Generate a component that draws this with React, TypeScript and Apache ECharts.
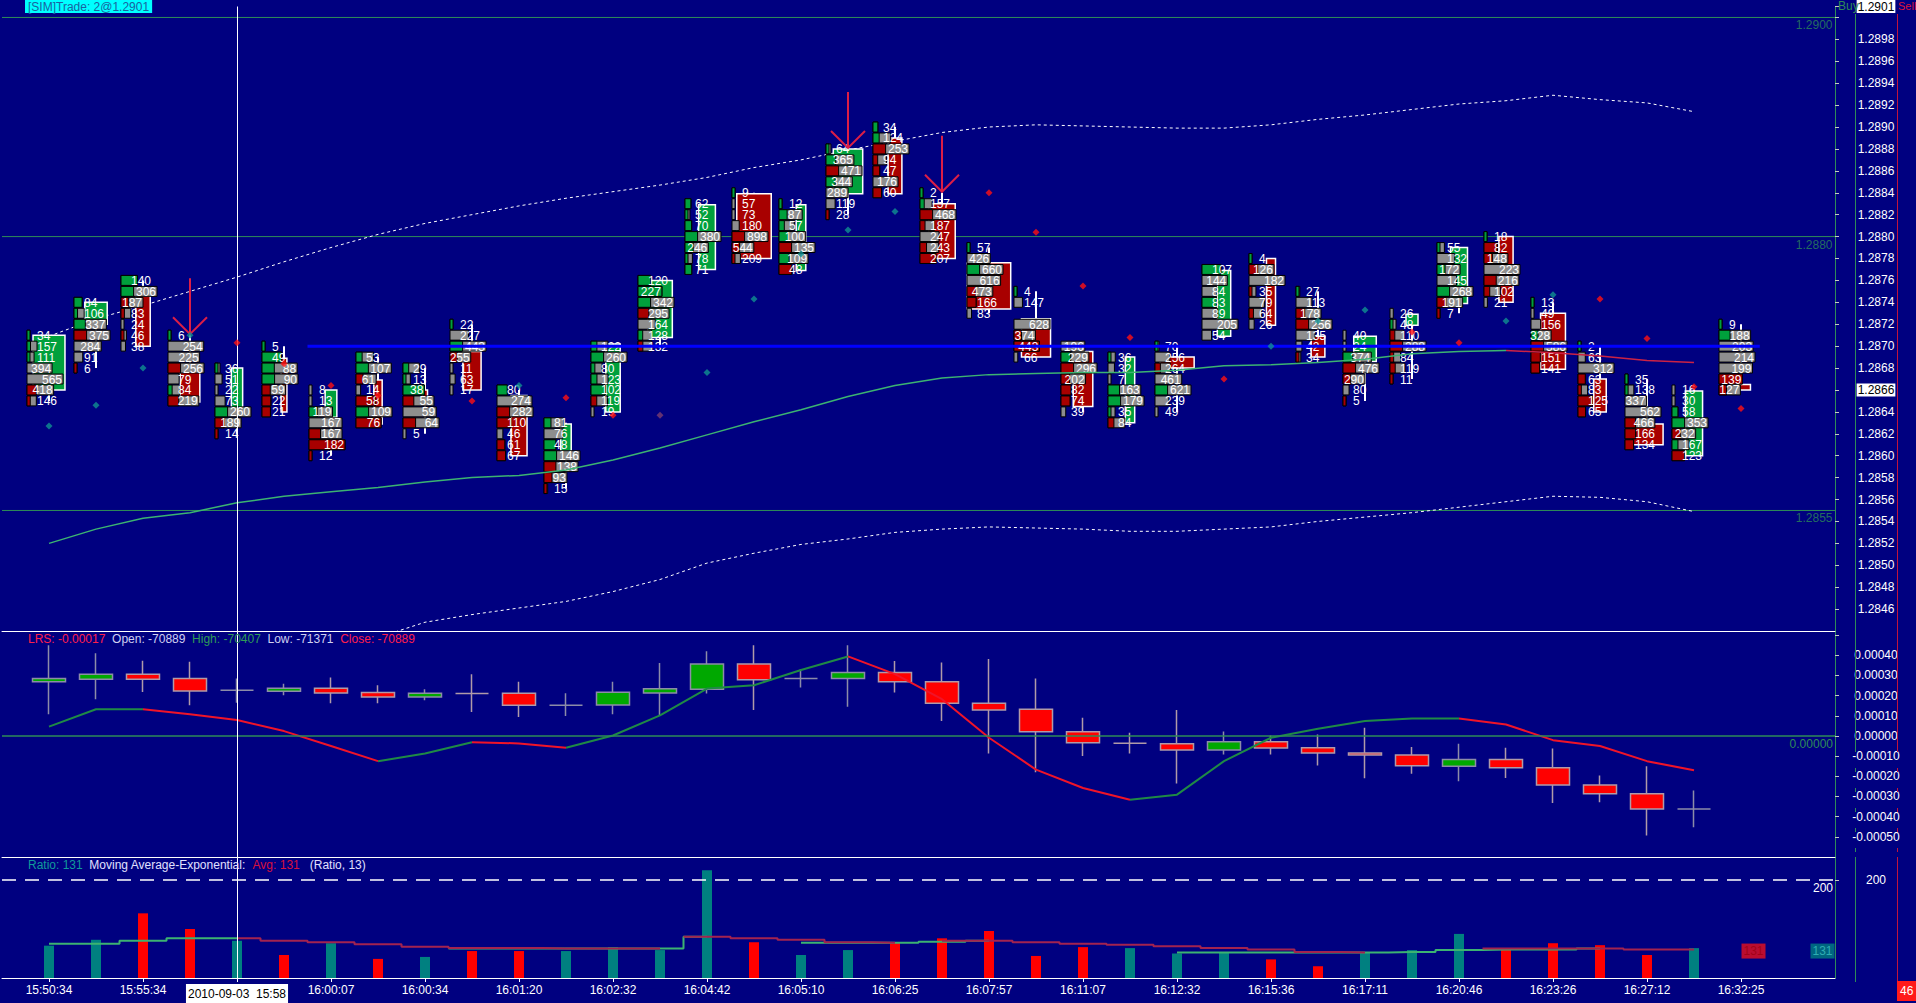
import React, { useEffect, useRef } from "react";
import * as echarts from "echarts";

const FONT = "'Liberation Sans', Arial, sans-serif";
const BG = "#000080";
const LEVEL_GREEN = "#2e8b57";
const FP_GREEN = "#00a03c";
const FP_RED = "#a80000";
const FP_GRAY = "#8e8e8e";

// ---------- X axis ----------
const timeLabels = ["15:50:34", "15:55:34", "", "16:00:07", "16:00:34", "16:01:20", "16:02:32", "16:04:42", "16:05:10", "16:06:25", "16:07:57", "16:11:07", "16:12:32", "16:15:36", "16:17:11", "16:20:46", "16:23:26", "16:27:12", "16:32:25"];
const labelSlots = timeLabels.map((_, k) => k * 2);
const cursorIndex = 4;
const cursorLabel = "2010-09-03  15:58";

// ---------- Main price panel ----------
const priceLevels = [1.29, 1.288, 1.2855];
const lastPrice = 1.2866;
const tradePrice = 1.2901;
const positionPrice = 1.287;
const positionFrom = 5.5;
const positionTo = 36.4;
const arrowBars = [3, 17, 19];

const fpTop = [1.2871, 1.2874, 1.2876, 1.2871, 1.2868, 1.287, 1.2866, 1.2869, 1.2868, 1.2872, 1.2866, 1.2863, 1.287, 1.2876, 1.2883, 1.2884, 1.2883, 1.2888, 1.289, 1.2884, 1.2879, 1.2875, 1.287, 1.2869, 1.287, 1.2877, 1.2878, 1.2875, 1.2871, 1.2873, 1.2879, 1.288, 1.2874, 1.287, 1.2867, 1.2866, 1.2872];
const fpVols: (number | null)[][] = [
  [34, 157, 111, 394, 565, 418, 146],
  [84, 106, 337, 375, 284, 91, 6],
  [140, 306, 187, 83, 24, 46, 38],
  [6, 254, 225, 256, 79, 84, 219],
  [36, 51, 22, 73, 260, 189, 14],
  [5, 49, 88, 90, 59, 22, 21],
  [8, 13, 119, 167, 167, 182, 12],
  [53, 107, 61, 14, 58, 109, 76],
  [29, 13, 38, 55, 59, 64, 5],
  [22, 227, 443, 255, 11, 63, 17],
  [80, 274, 282, 110, 46, 61, 67],
  [81, 76, 48, 146, 138, 93, 15],
  [122, 260, 80, 123, 102, 119, 19],
  [120, 227, 342, 295, 164, 128, 132],
  [62, 52, 70, 380, 246, 78, 71],
  [9, 57, 73, 180, 898, 544, 209],
  [12, 87, 57, 100, 135, 109, 48],
  [64, 365, 471, 344, 289, 119, 28],
  [34, 124, 253, 94, 47, 176, 60],
  [2, 157, 468, 187, 247, 243, 207],
  [57, 426, 660, 616, 473, 166, 83],
  [4, 147, null, 628, 374, 443, 66],
  [196, 229, 296, 202, 82, 74, 39],
  [36, 32, 7, 163, 179, 35, 84],
  [70, 256, 264, 461, 621, 239, 49],
  [107, 144, 84, 83, 89, 205, 54],
  [4, 126, 182, 35, 79, 64, 26],
  [27, 113, 178, 256, 135, 42, 34],
  [40, 24, 374, 476, 290, 80, 5],
  [26, 48, 110, 288, 84, 119, 11],
  [55, 132, 172, 145, 268, 191, 7],
  [18, 82, 148, 223, 216, 102, 21],
  [13, 49, 156, 328, 586, 151, 141],
  [2, 63, 312, 63, 83, 125, 65],
  [35, 138, 337, 562, 466, 166, 134],
  [16, 30, 58, 353, 232, 167, 123],
  [9, 188, 203, 214, 199, 139, 127],
];
// per row: g/r = buy/sell part then neutral, G/R = all buy/sell, n = neutral
const fpSides = ["gggnnrr", "Gggrnnr", "Ggrrnrn", "gnnrngr", "gnnngrr", "gGggrRR", "nngnrRr", "ggrnRgR", "ggGrnrn", "gngrnnn", "GnrRnRR", "gnGgrrr", "ggggGrn", "GGgrngr", "GgGgggG", "gnnnrrr", "ggggrgR", "ggrgnnr", "GgrrRnR", "ggrrnrR", "gngnrRn", "gnnnrRn", "ngrrRRn", "gnngggr", "gnrngnn", "GnnGnnn", "grnrnrn", "gnrrnnr", "nngrrnr", "ngrrrrr", "gngngrr", "gRrnrrn", "gnngrRR", "gnnRrRR", "ggnnrRR", "nnGgrgR", "ggnnnRr"];
const fpOpen = [1.2866, 1.2872, 1.28746, 1.28684, 1.28637, 1.28689, 1.28635, 1.28669, 1.2866, 1.28695, 1.28655, 1.28604, 1.2864, 1.28708, 1.2877, 1.28839, 1.28769, 1.28839, 1.2889, 1.2883, 1.28776, 1.28725, 1.28695, 1.2863, 1.2869, 1.28709, 1.2878, 1.28709, 1.28686, 1.28719, 1.28739, 1.288, 1.2873, 1.2867, 1.28629, 1.286, 1.28665];
const fpClose = [1.2871, 1.2874, 1.287, 1.28649, 1.2868, 1.2864, 1.2866, 1.28629, 1.2865, 1.2866, 1.286, 1.28629, 1.28702, 1.2876, 1.28829, 1.2878, 1.28829, 1.2888, 1.28839, 1.2878, 1.28734, 1.2869, 1.28645, 1.2869, 1.2868, 1.28769, 1.28719, 1.2869, 1.28709, 1.28729, 1.2879, 1.2874, 1.28679, 1.2864, 1.2861, 1.28659, 1.2866];

const maValues = [1.2852, 1.28533, 1.28543, 1.28548, 1.28557, 1.28563, 1.28567, 1.28571, 1.28576, 1.2858, 1.28582, 1.28587, 1.28596, 1.28607, 1.28619, 1.28631, 1.28642, 1.28654, 1.28664, 1.28671, 1.28674, 1.28675, 1.28676, 1.28676, 1.28678, 1.28682, 1.28683, 1.28685, 1.28688, 1.28693, 1.28695, 1.28696, 1.28694, 1.28691, 1.28687, 1.28685];
const upperBand = [1.28709, 1.28725, 1.28737, 1.2875, 1.28763, 1.28777, 1.2879, 1.28802, 1.28812, 1.2882, 1.28828, 1.28835, 1.28841, 1.28847, 1.28854, 1.28863, 1.2887, 1.28879, 1.28887, 1.28895, 1.289, 1.28902, 1.28901, 1.289, 1.28899, 1.28899, 1.28902, 1.28907, 1.28911, 1.28916, 1.28921, 1.28924, 1.28929, 1.28925, 1.28922, 1.28914];
const lowerBand: (number | null)[] = [null, null, null, null, null, null, null, 1.28434, 1.28448, 1.28455, 1.28461, 1.28467, 1.28476, 1.28487, 1.28502, 1.28511, 1.28519, 1.28524, 1.2853, 1.28533, 1.28535, 1.28534, 1.28533, 1.28531, 1.28531, 1.28533, 1.28535, 1.2854, 1.28544, 1.28548, 1.28553, 1.28558, 1.28563, 1.28562, 1.28558, 1.28549];

const tealDots = [[0, 1.28627], [1, 1.28646], [2, 1.2868], [3, 1.2871], [10, 1.28664], [14, 1.28676], [15, 1.28743], [16, 1.28784], [17, 1.28806], [18, 1.28823], [26, 1.287], [27, 1.28723], [28, 1.28733], [31, 1.28723], [32, 1.28747]];
const redDots = [[4, 1.28703], [5, 1.28684], [6, 1.28664], [7, 1.28655], [9, 1.2865], [11, 1.28653], [12, 1.28637], [20, 1.2884], [21, 1.28804], [22, 1.28755], [23, 1.28708], [25, 1.2867], [29, 1.28713], [30, 1.28703], [33, 1.28743], [34, 1.28707], [35, 1.28663], [36, 1.28643]];
const neutralDots = [[13, 1.28637]];

// ---------- LRS panel (units of 0.0001) ----------
const LRS_UNIT = 0.0001;
// [open, close, low, high]
const lrsCandles = [
  [2.68, 2.84, 1.07, 4.5], [2.81, 3.06, 1.82, 4.1], [3.06, 2.81, 2.18, 3.72], [2.84, 2.23, 1.52, 3.67],
  [2.26, 2.26, 1.65, 2.84], [2.21, 2.36, 2.01, 2.59], [2.36, 2.13, 1.62, 2.89], [2.15, 1.93, 1.62, 2.51],
  [1.93, 2.11, 1.77, 2.31], [2.1, 2.1, 1.19, 3.06], [2.11, 1.52, 0.94, 2.68], [1.52, 1.52, 0.99, 2.11],
  [1.53, 2.16, 1.07, 2.68], [2.13, 2.34, 0.99, 3.61], [2.31, 3.56, 2.1, 4.2], [3.56, 2.78, 1.28, 4.5],
  [2.84, 2.84, 2.4, 3.31], [2.84, 3.14, 1.45, 4.5], [3.14, 2.69, 2.15, 3.71], [2.69, 1.62, 0.74, 3.64],
  [1.62, 1.28, -0.87, 3.81], [1.32, 0.21, -1.8, 2.84], [0.21, -0.34, -1.0, 0.9], [-0.36, -0.36, -0.87, 0.16],
  [-0.39, -0.7, -2.36, 1.28], [-0.7, -0.29, -0.92, 0.22], [-0.29, -0.6, -0.92, 0.02], [-0.59, -0.85, -1.47, 0.07],
  [-0.84, -0.95, -2.1, 0.41], [-0.94, -1.48, -1.87, -0.55], [-1.5, -1.17, -2.25, -0.39], [-1.17, -1.58, -2.08, -0.59],
  [-1.58, -2.43, -3.32, -0.62], [-2.43, -2.87, -3.29, -1.96], [-2.87, -3.62, -4.93, -1.5], [-3.62, -3.62, -4.53, -2.71],
];
const lrsLine = [0.46, 1.32, 1.32, 1.07, 0.79, 0.24, -0.5, -1.25, -0.87, -0.31, -0.37, -0.59, 0.02, 1.02, 2.35, 2.51, 3.27, 3.94, 3.06, 1.82, -0.09, -1.67, -2.58, -3.16, -2.91, -1.25, -0.09, 0.36, 0.74, 0.86, 0.86, 0.57, -0.21, -0.5, -1.25, -1.7];

// ---------- Ratio panel ----------
const ratioValues = [66, 78, 132, 100, 76, 47, 71, 39, 43, 55, 55, 55, 63, 57, 220, 73, 47, 57, 72, 81, 96, 45, 63, 61, 50, 51, 38, 24, 52, 57, 90, 59, 71, 67, 47, 61];
const ratioDir = [1, 1, -1, -1, 1, -1, 1, -1, 1, -1, -1, 1, 1, 1, 1, -1, 1, 1, -1, -1, -1, -1, -1, 1, 1, 1, -1, -1, 1, 1, 1, -1, -1, -1, -1, 1];
const avgValues = [70, 70, 76, 81, 81, 76, 73, 69, 64, 61, 61, 60, 60, 60, 84, 81, 78, 73, 72, 74, 76, 73, 70, 68, 65, 61, 58, 53, 52, 53, 57, 58, 58, 60, 58, 58];
const ratioLevel = 200;
const avgMarkerLevel = 55;

const X_MIN = -1;
const X_MAX = 38;

function splitRuns(vals: (number | null)[], scale = 1) {
  const up: any[] = [];
  const dn: any[] = [];
  let prevUp = true;
  let curUp: boolean | null = null;
  for (let i = 0; i < vals.length - 1; i++) {
    const a = vals[i], b = vals[i + 1];
    if (a == null || b == null) continue;
    const isUp = b > a ? true : b < a ? false : prevUp;
    prevUp = isUp;
    const target = isUp ? up : dn;
    if (curUp !== isUp) {
      if (curUp !== null) (curUp ? up : dn).push([i, null]);
      target.push([i, a * scale]);
      curUp = isUp;
    }
    target.push([i + 1, b * scale]);
  }
  return { up, dn };
}

function renderFootprint(params: any, api: any) {
  const i = api.value(0);
  const top = fpTop[i];
  const vols = fpVols[i];
  const sides = fpSides[i];
  const ROW = 0.0001;
  const c = api.coord([i, top]);
  const cx = c[0];
  const yTop = c[1];
  const rowH = api.size([0, ROW])[1];
  const n = vols.length;
  const yBot = api.coord([i, top - (n - 1) * ROW])[1];
  const yO = api.coord([i, fpOpen[i]])[1];
  const yC = api.coord([i, fpClose[i]])[1];
  const valid = vols.filter((v) => v != null) as number[];
  const total = valid.reduce((a, b) => a + b, 0);
  const maxV = Math.max(...valid);
  const bodyW = Math.max(5, total * 0.0175);
  const left = cx - 22;
  const ch: any[] = [];
  ch.push({ type: "line", shape: { x1: cx, y1: yTop, x2: cx, y2: yBot }, style: { stroke: "#ffffff", lineWidth: 2 } });
  ch.push({
    type: "rect",
    shape: { x: cx - bodyW / 2, y: Math.min(yO, yC), width: bodyW, height: Math.max(2, Math.abs(yO - yC)) },
    style: { fill: fpClose[i] >= fpOpen[i] ? FP_GREEN : FP_RED, stroke: "#ffffff", lineWidth: 1.5 },
  });
  const h = rowH - 1;
  vols.forEach((v, r) => {
    if (v == null) return;
    const y = yTop + r * rowH;
    const w = Math.max(3, (v / maxV) * 36);
    const s = sides[r];
    ch.push({ type: "rect", shape: { x: left, y: y - h / 2, width: w, height: h }, style: { fill: FP_GRAY, stroke: "#000000", lineWidth: 1 } });
    if (s !== "n") {
      const full = s === "G" || s === "R";
      const cw = full ? w : Math.max(3, w * 0.35);
      ch.push({ type: "rect", shape: { x: left, y: y - h / 2, width: cw, height: h }, style: { fill: s.toLowerCase() === "g" ? FP_GREEN : FP_RED, stroke: "#000000", lineWidth: 1 } });
    }
  });
  vols.forEach((v, r) => {
    if (v == null) return;
    const y = yTop + r * rowH;
    const w = Math.max(3, (v / maxV) * 36);
    const long = w >= 20;
    ch.push({
      type: "text",
      style: { text: String(v), x: long ? left + w - 1 : left + 10, y: y + 0.5, align: long ? "right" : "left", verticalAlign: "middle", fill: "#ffffff", font: `12px ${FONT}` },
    });
  });
  if (arrowBars.includes(i)) {
    const tip = yTop - 1;
    const col = "#dc1e46";
    ch.push({ type: "line", shape: { x1: cx, y1: tip - 56, x2: cx, y2: tip }, style: { stroke: col, lineWidth: 2 } });
    ch.push({ type: "polyline", shape: { points: [[cx - 17, tip - 17], [cx, tip], [cx + 17, tip - 17]] }, style: { stroke: col, lineWidth: 2, fill: "none" } });
  }
  return { type: "group", children: ch };
}

function buildOption() {
  const ma = splitRuns(maValues);
  const lrs = splitRuns(lrsLine, LRS_UNIT);
  const avg = splitRuns(avgValues);
  const levelData: any[] = [];
  priceLevels.forEach((p) => {
    levelData.push([X_MIN, p], [X_MAX, p], [X_MAX, null]);
  });
  const xBase = { type: "value", min: X_MIN, max: X_MAX, interval: 1, splitLine: { show: false } };
  const yBase = {
    type: "value",
    position: "right",
    splitLine: { show: false },
    axisLine: { show: true, onZero: false, lineStyle: { color: LEVEL_GREEN } },
    axisTick: { show: true, length: 4, lineStyle: { color: "#c8c8c8" } },
  };
  const labelBase = { color: "#ffffff", fontSize: 12, fontFamily: FONT, align: "center", margin: 41 };
  const hl = { backgroundColor: "#ffffff", color: "#000000", padding: [1, 1, 0, 1], fontSize: 12, fontFamily: FONT };
  const crossLine = { xAxis: cursorIndex, lineStyle: { color: "#ffffff", width: 1, type: "solid" }, label: { show: false } };
  const levelLabel = (p: number, text: string) => ({
    value: [X_MAX, p],
    label: { show: true, position: "left", distance: 2, offset: [0, 8], formatter: text, color: LEVEL_GREEN, fontSize: 12, fontFamily: FONT },
  });

  return {
    animation: false,
    backgroundColor: BG,
    textStyle: { fontFamily: FONT },
    grid: [
      { left: 2, right: 81, top: 0, height: 631 },
      { left: 2, right: 81, top: 631, height: 226 },
      { left: 2, right: 81, top: 857, height: 125 },
    ],
    xAxis: [
      { ...xBase, gridIndex: 0, axisLabel: { show: false }, axisTick: { show: false }, axisLine: { show: true, onZero: false, lineStyle: { color: "#ffffff" } } },
      { ...xBase, gridIndex: 1, axisLabel: { show: false }, axisTick: { show: false }, axisLine: { show: true, onZero: false, lineStyle: { color: "#ffffff" } } },
      {
        ...xBase,
        gridIndex: 2,
        axisLine: { show: true, onZero: false, lineStyle: { color: "#ffffff" } },
        axisTick: { show: true, length: 4, lineStyle: { color: "#ffffff" }, customValues: labelSlots },
        axisLabel: {
          color: "#ffffff",
          fontSize: 12,
          fontFamily: FONT,
          margin: 6,
          customValues: labelSlots,
          showMinLabel: true,
          showMaxLabel: true,
          formatter: (v: number) => {
            const i = Math.round(v);
            if (i < 0 || i > 36 || i % 2 !== 0) return "";
            if (i === cursorIndex) return `{hl|${cursorLabel}}`;
            return timeLabels[i / 2] || "";
          },
          rich: { hl: { backgroundColor: "#ffffff", color: "#000000", padding: [4, 2, 3, 2], fontSize: 12, fontFamily: FONT } },
        },
      },
    ],
    yAxis: [
      {
        ...yBase,
        gridIndex: 0,
        min: 1.2844,
        max: 1.2901,
        interval: 0.0002,
        axisLabel: {
          ...labelBase,
          showMinLabel: false,
          showMaxLabel: true,
          formatter: (v: number) => {
            const k = Math.round(v * 1e4);
            if (k === 12844 || k === 12900) return "";
            if (k === Math.round(tradePrice * 1e4) || k === Math.round(lastPrice * 1e4)) return `{hl|${(k / 1e4).toFixed(4)}}`;
            return (k / 1e4).toFixed(4);
          },
          rich: { hl },
        },
      },
      {
        ...yBase,
        gridIndex: 1,
        min: -0.0006,
        max: 0.00052,
        interval: 0.0001,
        axisLabel: {
          ...labelBase,
          showMinLabel: false,
          showMaxLabel: false,
          formatter: (v: number) => {
            const k = Math.round(v * 1e5);
            if (k > 45 || k < -55) return "";
            if (k === 0) return "0.00000";
            return (k / 1e5).toFixed(5);
          },
        },
      },
      {
        ...yBase,
        gridIndex: 2,
        min: 0,
        max: 247,
        interval: 200,
        axisLabel: { ...labelBase, showMinLabel: false, showMaxLabel: false, formatter: (v: number) => (v === ratioLevel ? String(ratioLevel) : "") },
      },
    ],
    series: [
      // ----- main panel -----
      {
        type: "line",
        name: "levels",
        xAxisIndex: 0,
        yAxisIndex: 0,
        z: 1,
        symbol: "none",
        data: levelData,
        lineStyle: { color: LEVEL_GREEN, width: 1 },
      },
      {
        type: "scatter",
        name: "levelLabels",
        xAxisIndex: 0,
        yAxisIndex: 0,
        z: 1,
        symbolSize: 1,
        itemStyle: { color: "rgba(0,0,0,0)" },
        data: priceLevels.map((p) => levelLabel(p, p.toFixed(4))),
      },
      {
        type: "line",
        name: "upper",
        xAxisIndex: 0,
        yAxisIndex: 0,
        z: 1,
        symbol: "none",
        data: upperBand.map((v, i) => [i, v]),
        lineStyle: { color: "#ffffff", width: 1, type: [3, 3] },
      },
      {
        type: "line",
        name: "lower",
        xAxisIndex: 0,
        yAxisIndex: 0,
        z: 1,
        symbol: "none",
        data: lowerBand.map((v, i) => [i, v]),
        lineStyle: { color: "#ffffff", width: 1, type: [3, 3] },
      },
      {
        type: "custom",
        name: "footprint",
        xAxisIndex: 0,
        yAxisIndex: 0,
        z: 2,
        encode: { x: 0, y: 1 },
        data: fpTop.map((t, i) => [i, t]),
        renderItem: renderFootprint,
      },
      { type: "line", xAxisIndex: 0, yAxisIndex: 0, z: 3, symbol: "none", data: ma.up, lineStyle: { color: "#3cb371", width: 1.5 } },
      { type: "line", xAxisIndex: 0, yAxisIndex: 0, z: 3, symbol: "none", data: ma.dn, lineStyle: { color: "#cc2244", width: 1.5 } },
      {
        type: "line",
        name: "position",
        xAxisIndex: 0,
        yAxisIndex: 0,
        z: 4,
        symbol: "none",
        data: [[positionFrom, positionPrice], [positionTo, positionPrice]],
        lineStyle: { color: "#0000ff", width: 3 },
        markLine: { silent: true, symbol: ["none", "none"], data: [crossLine] },
      },
      { type: "scatter", xAxisIndex: 0, yAxisIndex: 0, z: 5, symbol: "diamond", symbolSize: 7, data: tealDots, itemStyle: { color: "#109090" } },
      { type: "scatter", xAxisIndex: 0, yAxisIndex: 0, z: 5, symbol: "diamond", symbolSize: 7, data: redDots, itemStyle: { color: "#ff1010" } },
      { type: "scatter", xAxisIndex: 0, yAxisIndex: 0, z: 5, symbol: "diamond", symbolSize: 7, data: neutralDots, itemStyle: { color: "#7a3d6e" } },
      // ----- LRS panel -----
      {
        type: "candlestick",
        xAxisIndex: 1,
        yAxisIndex: 1,
        barWidth: 34,
        encode: { x: 0, y: [1, 2, 3, 4] },
        data: lrsCandles.map((c, i) => [i, c[0] * LRS_UNIT, c[1] * LRS_UNIT, c[2] * LRS_UNIT, c[3] * LRS_UNIT]),
        itemStyle: { color: "#00a800", color0: "#ff0000", borderColor: "#8c8ca8", borderColor0: "#b09aa8", borderWidth: 1.5 },
        markLine: {
          silent: true,
          symbol: ["none", "none"],
          data: [
            {
              yAxis: 0,
              lineStyle: { color: LEVEL_GREEN, width: 1.5, type: "solid" },
              label: { show: true, position: "insideEndBottom", formatter: "0.00000", color: LEVEL_GREEN, fontSize: 12, fontFamily: FONT, distance: [2, 2] },
            },
            crossLine,
          ],
        },
      },
      { type: "line", xAxisIndex: 1, yAxisIndex: 1, z: 3, symbol: "none", data: lrs.up, lineStyle: { color: "#1f8a45", width: 2 } },
      { type: "line", xAxisIndex: 1, yAxisIndex: 1, z: 3, symbol: "none", data: lrs.dn, lineStyle: { color: "#f01428", width: 2 } },
      // ----- Ratio panel -----
      {
        type: "bar",
        xAxisIndex: 2,
        yAxisIndex: 2,
        barWidth: 10,
        data: ratioValues.map((v, i) => ({ value: [i, v], itemStyle: { color: ratioDir[i] > 0 ? "#008080" : "#ff0000" } })),
        markLine: {
          silent: true,
          symbol: ["none", "none"],
          data: [
            {
              yAxis: ratioLevel,
              lineStyle: { color: "#ffffff", width: 1.5, type: [14, 9] },
              label: { show: true, position: "insideEndBottom", formatter: String(ratioLevel), color: "#ffffff", fontSize: 12, fontFamily: FONT, distance: [2, 2] },
            },
            crossLine,
          ],
        },
      },
      { type: "line", xAxisIndex: 2, yAxisIndex: 2, z: 3, symbol: "none", step: "middle", data: avg.up, lineStyle: { color: "#3cb371", width: 2 } },
      { type: "line", xAxisIndex: 2, yAxisIndex: 2, z: 3, symbol: "none", step: "middle", data: avg.dn, lineStyle: { color: "#a3234f", width: 2 } },
      {
        type: "scatter",
        xAxisIndex: 2,
        yAxisIndex: 2,
        z: 6,
        symbolSize: 1,
        itemStyle: { color: "rgba(0,0,0,0)" },
        data: [
          { value: [36, avgMarkerLevel], label: { show: true, position: "right", distance: 0, formatter: "131", backgroundColor: "#e8101c", color: "#9a0010", padding: [2, 2, 1, 2], fontSize: 12, fontFamily: FONT } },
          { value: [X_MAX, avgMarkerLevel], label: { show: true, position: "left", distance: 0, formatter: "131", backgroundColor: "#008080", color: "#3cc0c0", padding: [2, 2, 1, 2], fontSize: 12, fontFamily: FONT } },
        ],
      },
    ],
    graphic: [
      { type: "text", left: 25, top: 0, z: 100, style: { text: "[SIM]Trade: 2@1.2901", font: `12px ${FONT}`, fill: "#1a62a0", backgroundColor: "#00ffff", padding: [1, 3, 0, 3] } },
      {
        type: "text",
        left: 28,
        top: 633,
        z: 100,
        style: {
          text: "{r|LRS: -0.00017}  {w|Open: -70889}  {g|High: -70407}  {w|Low: -71371}  {r|Close: -70889}",
          font: `12px ${FONT}`,
          rich: {
            r: { fill: "#ff1f4b", fontSize: 12, fontFamily: FONT },
            w: { fill: "#d0d0f0", fontSize: 12, fontFamily: FONT },
            g: { fill: "#2e9b57", fontSize: 12, fontFamily: FONT },
          },
        },
      },
      {
        type: "text",
        left: 28,
        top: 859,
        z: 100,
        style: {
          text: "{t|Ratio: 131}  {w|Moving Average-Exponential:}  {r|Avg: 131}   {w|(Ratio, 13)}",
          font: `12px ${FONT}`,
          rich: {
            t: { fill: "#109a9a", fontSize: 12, fontFamily: FONT },
            w: { fill: "#e0e0ff", fontSize: 12, fontFamily: FONT },
            r: { fill: "#d8103c", fontSize: 12, fontFamily: FONT },
          },
        },
      },
      { type: "text", left: 1838, top: 0, z: 100, style: { text: "Buy", font: `12px ${FONT}`, fill: LEVEL_GREEN } },
      { type: "text", left: 1898, top: 0, z: 100, style: { text: "Sell", font: `11px ${FONT}`, fill: "#dc143c" } },
      { type: "line", z: 100, shape: { x1: 1855.5, y1: 14, x2: 1855.5, y2: 748 }, style: { stroke: LEVEL_GREEN, lineWidth: 1 } },
      { type: "line", z: 100, shape: { x1: 1855.5, y1: 748, x2: 1855.5, y2: 857 }, style: { stroke: LEVEL_GREEN, lineWidth: 1, lineDash: [4, 16] } },
      { type: "line", z: 100, shape: { x1: 1855.5, y1: 857, x2: 1855.5, y2: 982 }, style: { stroke: LEVEL_GREEN, lineWidth: 1 } },
      { type: "line", z: 100, shape: { x1: 1897.5, y1: 14, x2: 1897.5, y2: 748 }, style: { stroke: "#c0143c", lineWidth: 1 } },
      { type: "line", z: 100, shape: { x1: 1897.5, y1: 748, x2: 1897.5, y2: 857 }, style: { stroke: "#c0143c", lineWidth: 1, lineDash: [4, 16] } },
      { type: "line", z: 100, shape: { x1: 1897.5, y1: 857, x2: 1897.5, y2: 982 }, style: { stroke: "#c0143c", lineWidth: 1 } },
      { type: "text", left: 1897, top: 981, z: 100, style: { text: "46", font: `12px ${FONT}`, fill: "#ffffff", backgroundColor: "#ff1a1a", padding: [4, 3, 4, 3] } },
    ],
  };
}

export default function App() {
  const ref = useRef<HTMLDivElement>(null);
  useEffect(() => {
    document.body.style.margin = "0";
    document.body.style.overflow = "hidden";
    if (!ref.current) return;
    const chart = echarts.init(ref.current, undefined, { renderer: "svg" });
    chart.setOption(buildOption() as any);
    return () => chart.dispose();
  }, []);
  return <div ref={ref} style={{ width: 1916, height: 1003, background: BG }} />;
}
